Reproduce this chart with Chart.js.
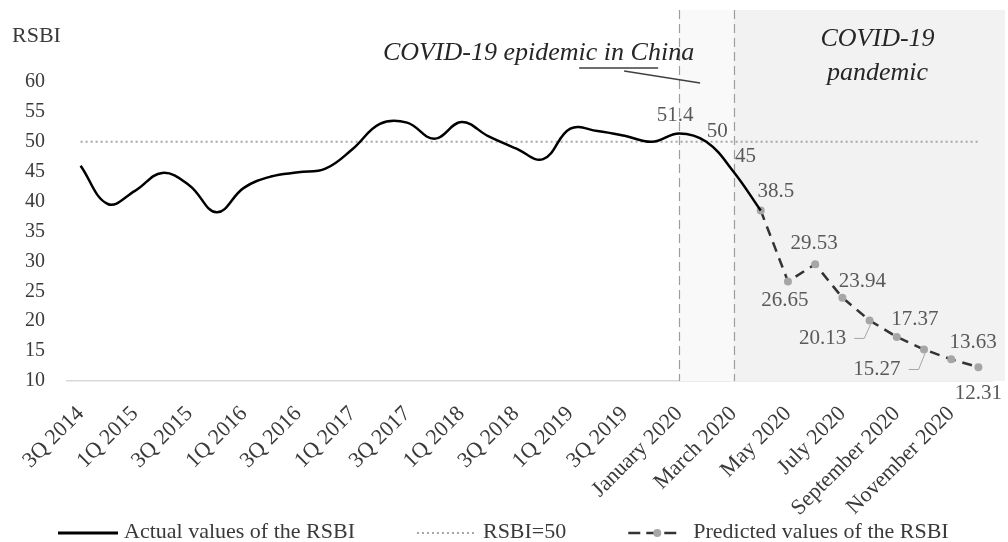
<!DOCTYPE html>
<html>
<head>
<meta charset="utf-8">
<script src="https://cdn.jsdelivr.net/npm/chart.js@4/dist/chart.umd.min.js"></script>
<style>
  html, body { margin: 0; padding: 0; background: #ffffff; }
  #wrap { width: 1008px; height: 542px; position: relative; }
</style>
</head>
<body>
<div id="wrap"><canvas id="c" width="1008" height="542"></canvas></div>
<script>
// ---------------- DATA ----------------
const categories = [
  '3Q 2014','4Q 2014','1Q 2015','2Q 2015','3Q 2015','4Q 2015',
  '1Q 2016','2Q 2016','3Q 2016','4Q 2016','1Q 2017','2Q 2017',
  '3Q 2017','4Q 2017','1Q 2018','2Q 2018','3Q 2018','4Q 2018',
  '1Q 2019','2Q 2019','3Q 2019','4Q 2019',
  'January 2020','February 2020','March 2020','April 2020','May 2020','June 2020',
  'July 2020','August 2020','September 2020','October 2020','November 2020','December 2020'
];

const actualValues = [
  46.0, 39.6, 41.8, 44.8, 42.7, 38.2,
  42.3, 44.2, 44.9, 45.5, 48.8, 53.0,
  53.2, 50.5, 53.3, 50.9, 48.9, 47.1,
  52.2, 51.8, 51.0, 50.0,
  51.4, 50, 45, 38.5, null, null,
  null, null, null, null, null, null
];

const predictedValues = [
  null, null, null, null, null, null,
  null, null, null, null, null, null,
  null, null, null, null, null, null,
  null, null, null, null,
  null, null, null, 38.5, 26.65, 29.53,
  23.94, 20.13, 17.37, 15.27, 13.63, 12.31
];

const thresholdValues = [
  50, 50, 50, 50, 50, 50,
  50, 50, 50, 50, 50, 50,
  50, 50, 50, 50, 50, 50,
  50, 50, 50, 50,
  50, 50, 50, 50, 50, 50,
  50, 50, 50, 50, 50, 50
];

const seriesNames = ['Actual values of the RSBI', 'RSBI=50', 'Predicted values of the RSBI'];
const yAxisTitle = 'RSBI';
const yRange = [10, 60];
const yStep = 5;
const epidemicStart = 'January 2020';
const pandemicStart = 'March 2020';
const epidemicText = 'COVID-19 epidemic in China';
const pandemicText = ['COVID-19', 'pandemic'];
const labelledActual = ['January 2020', 'February 2020', 'March 2020'];

// ---------------- STYLE ----------------
const FONT = "'Liberation Serif', 'Times New Roman', serif";
const TEXT = '#3a3a3a';
const LABEL_COLOR = '#595959';
// offsets of value labels relative to their point (px); leader = draw connector
const labelStyle = {
  'January 2020':   { dx: -4,  dy: -18 },
  'February 2020':  { dx: 11,  dy: -10 },
  'March 2020':     { dx: 12,  dy: -15 },
  'April 2020':     { dx: 15,  dy: -19 },
  'May 2020':       { dx: -3,  dy: 19 },
  'June 2020':      { dx: -1,  dy: -21 },
  'July 2020':      { dx: 20,  dy: -16 },
  'August 2020':    { dx: -47, dy: 18, leader: true },
  'September 2020': { dx: 18,  dy: -17 },
  'October 2020':   { dx: -47, dy: 20, leader: true },
  'November 2020':  { dx: 22,  dy: -17 },
  'December 2020':  { dx: 0,   dy: 26 }
};

const bgPlugin = {
  id: 'bgPlugin',
  beforeDatasetsDraw(chart) {
    const ctx = chart.ctx;
    const xs = chart.scales.x, ys = chart.scales.y;
    const xA = xs.getPixelForValue(categories.indexOf(epidemicStart));
    const xB = xs.getPixelForValue(categories.indexOf(pandemicStart));
    const top = 10;
    const bottom = ys.getPixelForValue(yRange[0]);
    const right = chart.width - 3;
    ctx.save();
    ctx.fillStyle = '#f9f9f9';
    ctx.fillRect(xA, top, xB - xA, bottom - top);
    ctx.fillStyle = '#f2f2f2';
    ctx.fillRect(xB, top, right - xB, bottom - top);
    ctx.strokeStyle = '#9e9e9e';
    ctx.lineWidth = 1.2;
    ctx.setLineDash([9, 5]);
    [xA, xB].forEach(x => {
      ctx.beginPath();
      ctx.moveTo(Math.round(x) + 0.5, top);
      ctx.lineTo(Math.round(x) + 0.5, bottom);
      ctx.stroke();
    });
    ctx.restore();
  }
};

const textPlugin = {
  id: 'textPlugin',
  afterDatasetsDraw(chart) {
    const ctx = chart.ctx;
    const xs = chart.scales.x;
    const xA = xs.getPixelForValue(categories.indexOf(epidemicStart));
    const xB = xs.getPixelForValue(categories.indexOf(pandemicStart));
    ctx.save();
    ctx.fillStyle = TEXT;
    ctx.font = '22px ' + FONT;
    ctx.textAlign = 'left';
    ctx.textBaseline = 'alphabetic';
    ctx.fillText(yAxisTitle, 12, 42);

    ctx.fillStyle = '#262626';
    ctx.font = 'italic 26px ' + FONT;
    ctx.textAlign = 'right';
    ctx.fillText(epidemicText, xA + 15, 60);
    ctx.strokeStyle = '#404040';
    ctx.lineWidth = 1.3;
    ctx.beginPath();
    ctx.moveTo(xA - 100, 68); ctx.lineTo(xA - 21, 68);
    ctx.moveTo(xA - 55, 71); ctx.lineTo(xA + 21, 83);
    ctx.stroke();
    ctx.textAlign = 'center';
    ctx.fillText(pandemicText[0], xB + 144, 46);
    ctx.fillText(pandemicText[1], xB + 144, 80);

    ctx.font = '21px ' + FONT;
    ctx.fillStyle = LABEL_COLOR;
    ctx.textBaseline = 'middle';
    ctx.textAlign = 'center';
    const metaA = chart.getDatasetMeta(0);
    const metaP = chart.getDatasetMeta(2);
    categories.forEach((cat, i) => {
      const st = labelStyle[cat];
      if (!st) return;
      let v, pt;
      if (predictedValues[i] !== null) { v = predictedValues[i]; pt = metaP.data[i]; }
      else if (labelledActual.includes(cat)) { v = actualValues[i]; pt = metaA.data[i]; }
      else return;
      const txt = String(v);
      const lx = pt.x + st.dx, ly = pt.y + st.dy;
      ctx.fillText(txt, lx, ly);
      if (st.leader) {
        const w = ctx.measureText(txt).width;
        ctx.save();
        ctx.strokeStyle = '#a6a6a6';
        ctx.lineWidth = 1;
        ctx.beginPath();
        ctx.moveTo(lx + w / 2 + 8, ly);
        ctx.lineTo(lx + w / 2 + 18, ly);
        ctx.lineTo(pt.x + 1, pt.y + 4);
        ctx.stroke();
        ctx.restore();
      }
    });
    ctx.restore();
  },
  afterDraw(chart) {
    const ctx = chart.ctx;
    const ds = chart.data.datasets;
    ctx.save();
    ctx.font = '22px ' + FONT;
    ctx.fillStyle = TEXT;
    ctx.textBaseline = 'alphabetic';
    ctx.textAlign = 'left';
    const sy = 533, ty = 538;
    let x = 58;
    ds.forEach((d, k) => {
      const sw = k === 2 ? 52 : 60;
      ctx.save();
      ctx.strokeStyle = d.borderColor;
      ctx.lineWidth = k === 0 ? 3 : d.borderWidth;
      ctx.setLineDash(k === 2 ? [12, 6] : (d.borderDash || []));
      ctx.beginPath();
      ctx.moveTo(x, sy); ctx.lineTo(x + sw, sy);
      ctx.stroke();
      if (k === 2) {
        ctx.setLineDash([]);
        ctx.fillStyle = d.pointBackgroundColor;
        ctx.beginPath();
        ctx.arc(x + sw / 2 + 3, sy, 4, 0, Math.PI * 2);
        ctx.fill();
      }
      ctx.restore();
      const gap = k === 2 ? 13 : 6;
      ctx.fillText(d.label, x + sw + gap, ty);
      x += sw + gap + ctx.measureText(d.label).width + 62;
    });
    ctx.restore();
  }
};

new Chart(document.getElementById('c').getContext('2d'), {
  type: 'line',
  data: {
    labels: categories,
    datasets: [
      { label: seriesNames[0], data: actualValues, borderColor: '#000000', borderWidth: 2.5,
        tension: 0.4, pointRadius: 0, pointHoverRadius: 0, fill: false },
      { label: seriesNames[1], data: thresholdValues, borderColor: '#a6a6a6', borderWidth: 2,
        borderDash: [2, 3], tension: 0, pointRadius: 0, pointHoverRadius: 0, fill: false },
      { label: seriesNames[2], data: predictedValues, borderColor: '#333333', borderWidth: 2.5,
        borderDash: [10, 7], tension: 0, pointRadius: 4, pointHoverRadius: 4,
        pointBackgroundColor: '#a6a6a6', pointBorderWidth: 0, pointBorderColor: '#a6a6a6', fill: false }
    ]
  },
  options: {
    responsive: false,
    animation: false,
    devicePixelRatio: 1,
    events: [],
    layout: { padding: { top: 82, right: 16, left: 0, bottom: 0 } },
    plugins: { legend: { display: false }, tooltip: { enabled: false }, title: { display: false } },
    scales: {
      x: {
        offset: true,
        grid: { display: false, drawTicks: false },
        border: { display: true, color: '#d9d9d9', width: 1.5 },
        ticks: {
          autoSkip: false, minRotation: 45, maxRotation: 45, padding: 20,
          color: TEXT, font: { family: FONT, size: 22 },
          callback: (v, i) => (i % 2 === 0 ? categories[i] : '')
        },
        afterFit: (s) => { s.height = 161; s.paddingLeft = 0; s.paddingRight = 0; }
      },
      y: {
        min: yRange[0], max: yRange[1],
        grid: { display: false, drawTicks: false },
        border: { display: false },
        ticks: { stepSize: yStep, padding: 22, color: TEXT, font: { family: FONT, size: 20 } },
        afterFit: (s) => { s.width = 67; }
      }
    }
  },
  plugins: [bgPlugin, textPlugin]
});
</script>
</body>
</html>
